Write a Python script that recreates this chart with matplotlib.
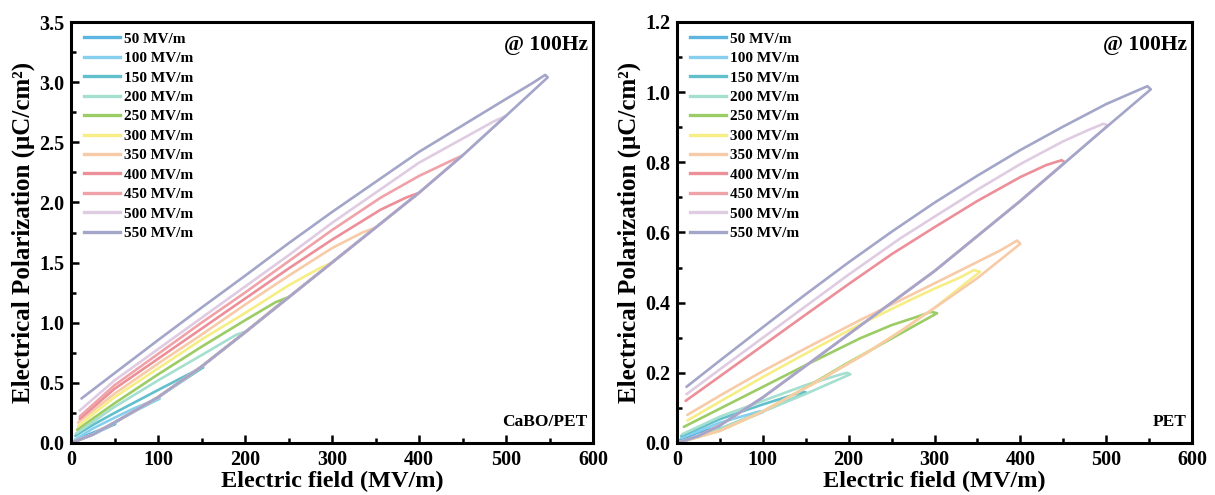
import matplotlib
matplotlib.use("Agg")
import matplotlib.pyplot as plt
from matplotlib.lines import Line2D
from matplotlib.ticker import MultipleLocator

plt.rcParams['font.family'] = ['Liberation Serif', 'DejaVu Serif']
plt.rcParams['font.weight'] = 'bold'

# ---------------- legend ----------------
LEGEND_LABELS = ['50 MV/m', '100 MV/m', '150 MV/m', '200 MV/m', '250 MV/m', '300 MV/m',
                 '350 MV/m', '400 MV/m', '450 MV/m', '500 MV/m', '550 MV/m']
LEGEND_COLORS = ['#5bb5e0', '#87cfef', '#62c0cc', '#a5dfcf', '#9ccc65', '#f6ee85',
                 '#f8cba8', '#ec8f99', '#f0a2a9', '#e0cce2', '#a4a6c9']

# ---------------- left panel (CaBO/PET): loops E (MV/m), P (uC/cm2) ----------------
L50_E = [0, 25, 51, 45, 30, 15, 3]
L50_P = [0, 0.07, 0.16, 0.145, 0.10, 0.055, 0.015]
L100_E = [0, 25, 50, 75, 102, 90, 70, 50, 25, 5]
L100_P = [0, 0.07, 0.17, 0.27, 0.37, 0.34, 0.28, 0.21, 0.12, 0.03]
L150_E = [0, 25, 50, 100, 152, 140, 100, 50, 25, 5]
L150_P = [0, 0.07, 0.17, 0.38, 0.63, 0.59, 0.44, 0.25, 0.15, 0.06]
L200_E = [0, 25, 50, 100, 150, 202, 190, 150, 100, 50, 6]
L200_P = [0, 0.07, 0.17, 0.38, 0.635, 0.93, 0.90, 0.73, 0.52, 0.30, 0.08]
L250_E = [0, 25, 50, 100, 150, 200, 249, 235, 200, 150, 100, 50, 7]
L250_P = [0, 0.07, 0.17, 0.38, 0.635, 0.92, 1.21, 1.17, 1.02, 0.80, 0.57, 0.33, 0.11]
L300_E = [0, 25, 50, 100, 150, 200, 250, 300, 285, 250, 200, 150, 100, 50, 8]
L300_P = [0, 0.07, 0.17, 0.38, 0.635, 0.92, 1.21, 1.50, 1.45, 1.31, 1.08, 0.86, 0.62, 0.38, 0.14]
L350_E = [0, 25, 50, 100, 150, 200, 250, 300, 350, 335, 300, 250, 200, 150, 100, 50, 8]
L350_P = [0, 0.07, 0.17, 0.38, 0.635, 0.92, 1.21, 1.50, 1.79, 1.75, 1.62, 1.39, 1.15, 0.90, 0.66, 0.41, 0.17]
L400_E = [0, 25, 50, 100, 150, 200, 250, 300, 350, 400, 385, 356, 300, 250, 200, 150, 100, 50, 10]
L400_P = [0, 0.07, 0.17, 0.38, 0.635, 0.92, 1.21, 1.50, 1.79, 2.08, 2.04, 1.94, 1.69, 1.45, 1.20, 0.95, 0.70, 0.45, 0.20]
L450_E = [0, 25, 50, 100, 150, 200, 250, 300, 350, 400, 450, 435, 400, 356, 300, 250, 200, 150, 100, 50, 10]
L450_P = [0, 0.07, 0.17, 0.38, 0.635, 0.92, 1.21, 1.50, 1.79, 2.08, 2.39, 2.34, 2.22, 2.04, 1.77, 1.51, 1.25, 1.00, 0.74, 0.48, 0.22]
L500_E = [0, 25, 50, 100, 150, 200, 250, 300, 350, 400, 450, 500, 485, 450, 400, 356, 300, 250, 200, 150, 100, 50, 10]
L500_P = [0, 0.07, 0.17, 0.38, 0.635, 0.92, 1.21, 1.50, 1.79, 2.08, 2.39, 2.72, 2.67, 2.53, 2.33, 2.11, 1.83, 1.56, 1.30, 1.04, 0.78, 0.52, 0.27]
L550_E = [0, 25, 50, 100, 150, 200, 250, 300, 350, 400, 450, 500, 548, 545, 530, 500, 450, 400, 356, 300, 250, 200, 150, 100, 50, 12]
L550_P = [0, 0.07, 0.17, 0.38, 0.635, 0.92, 1.21, 1.50, 1.79, 2.08, 2.39, 2.72, 3.04, 3.06, 2.99, 2.86, 2.64, 2.42, 2.20, 1.92, 1.66, 1.39, 1.125, 0.855, 0.58, 0.37]

# ---------------- right panel (PET) ----------------
R50_E = [0, 25, 50, 47, 25, 3]
R50_P = [0, 0.018, 0.043, 0.045, 0.03, 0.008]
R100_E = [0, 50, 100, 96, 50, 5]
R100_P = [0, 0.04, 0.088, 0.09, 0.058, 0.015]
R150_E = [0, 50, 100, 151, 147, 100, 50, 5]
R150_P = [0, 0.04, 0.09, 0.143, 0.146, 0.11, 0.068, 0.02]
R200_E = [0, 50, 100, 150, 202, 198, 190, 150, 100, 50, 6]
R200_P = [0, 0.04, 0.09, 0.14, 0.196, 0.20, 0.195, 0.165, 0.12, 0.075, 0.025]
R300_E = [0, 50, 100, 150, 198, 250, 303, 296, 280, 250, 213, 150, 100, 50, 8]
R300_P = [0, 0.035, 0.09, 0.158, 0.227, 0.298, 0.37, 0.374, 0.36, 0.336, 0.298, 0.222, 0.16, 0.098, 0.046]
R350_E = [0, 50, 100, 167, 220, 260, 300, 353, 346, 330, 300, 272, 213, 150, 100, 50, 12]
R350_P = [0, 0.035, 0.09, 0.18, 0.256, 0.318, 0.385, 0.488, 0.493, 0.472, 0.44, 0.408, 0.338, 0.255, 0.188, 0.118, 0.064]
R400_E = [0, 50, 100, 167, 220, 260, 300, 350, 400, 396, 390, 376, 300, 213, 150, 100, 50, 12]
R400_P = [0, 0.035, 0.09, 0.18, 0.255, 0.318, 0.385, 0.47, 0.568, 0.577, 0.568, 0.548, 0.455, 0.35, 0.27, 0.205, 0.135, 0.08]
R450_E = [0, 25, 50, 100, 150, 200, 250, 300, 350, 400, 452, 448, 430, 400, 350, 300, 250, 200, 150, 100, 50, 10]
R450_P = [0, 0.02, 0.05, 0.13, 0.22, 0.31, 0.40, 0.49, 0.59, 0.69, 0.80, 0.806, 0.792, 0.758, 0.69, 0.615, 0.538, 0.453, 0.366, 0.278, 0.19, 0.12]
R500_E = [0, 25, 50, 100, 150, 200, 250, 300, 350, 400, 450, 502, 497, 480, 450, 400, 350, 300, 260, 200, 150, 100, 50, 11]
R500_P = [0, 0.02, 0.05, 0.13, 0.22, 0.31, 0.40, 0.49, 0.59, 0.69, 0.795, 0.905, 0.91, 0.893, 0.86, 0.795, 0.722, 0.645, 0.583, 0.48, 0.39, 0.30, 0.21, 0.139]
R550_E = [0, 25, 50, 100, 150, 200, 250, 300, 350, 400, 450, 500, 552, 548, 530, 500, 450, 400, 350, 300, 250, 200, 150, 100, 50, 11]
R550_P = [0, 0.02, 0.05, 0.13, 0.22, 0.31, 0.40, 0.49, 0.59, 0.69, 0.795, 0.90, 1.008, 1.017, 0.998, 0.966, 0.902, 0.835, 0.762, 0.685, 0.602, 0.515, 0.424, 0.33, 0.235, 0.16]

LEFT_LOOPS = [(L50_E, L50_P, 0), (L100_E, L100_P, 1), (L150_E, L150_P, 2), (L200_E, L200_P, 3),
              (L250_E, L250_P, 4), (L300_E, L300_P, 5), (L350_E, L350_P, 6), (L400_E, L400_P, 7),
              (L450_E, L450_P, 8), (L500_E, L500_P, 9), (L550_E, L550_P, 10)]
RIGHT_LOOPS = [(R50_E, R50_P, 0), (R100_E, R100_P, 1), (R150_E, R150_P, 2), (R200_E, R200_P, 3),
               (R300_E, R300_P, 4), (R350_E, R350_P, 5), (R400_E, R400_P, 6), (R450_E, R450_P, 7),
               (R500_E, R500_P, 9), (R550_E, R550_P, 10)]

W, H = 1215, 495
fig = plt.figure(figsize=(W / 100, H / 100), dpi=100)
ax1 = fig.add_axes([71 / W, 1 - 443 / H, (593 - 71) / W, (443 - 22) / H])
ax2 = fig.add_axes([677 / W, 1 - 443 / H, (1192 - 677) / W, (443 - 22) / H])


def style(ax, ymax, ymaj, ymin, sample):
    ax.set_xlim(0, 600)
    ax.set_ylim(0, ymax)
    ax.xaxis.set_major_locator(MultipleLocator(100))
    ax.xaxis.set_minor_locator(MultipleLocator(50))
    ax.yaxis.set_major_locator(MultipleLocator(ymaj))
    ax.yaxis.set_minor_locator(MultipleLocator(ymin))
    ax.tick_params(which='both', direction='in', top=False, right=False, labelsize=14.5, width=1.8)
    ax.tick_params(which='major', length=6)
    ax.tick_params(axis='x', which='major', pad=5)
    ax.tick_params(axis='y', which='major', pad=5)
    ax.tick_params(which='minor', length=3.5)
    for lab in ax.get_xticklabels() + ax.get_yticklabels():
        lab.set_fontweight('bold')
    for s in ax.spines.values():
        s.set_linewidth(2.2)
    ax.set_xlabel('Electric field (MV/m)', fontsize=17.5, fontweight='bold', labelpad=1)
    ax.set_ylabel('Electrical Polarization (μC/cm²)', fontsize=18, fontweight='bold', labelpad=3)
    ax.text(0.99, 0.945, '@ 100Hz', transform=ax.transAxes, ha='right', va='center',
            fontsize=15.5, fontweight='bold')
    ax.text(0.99, 0.05, sample, transform=ax.transAxes, ha='right', va='center',
            fontsize=12.5, fontweight='bold')
    handles = [Line2D([0], [0], color=c, lw=2.4) for c in LEGEND_COLORS]
    ax.legend(handles, LEGEND_LABELS, loc='upper left', bbox_to_anchor=(0.025, 0.976),
              frameon=False, prop={'weight': 'bold', 'size': 11}, handlelength=2.35,
              labelspacing=0.375, handletextpad=0.26, borderaxespad=0.0, borderpad=0.0)


for E, P, ci in LEFT_LOOPS:
    ax1.plot(E, P, color=LEGEND_COLORS[ci], lw=1.9, solid_joinstyle='round', solid_capstyle='round')
for E, P, ci in RIGHT_LOOPS:
    ax2.plot(E, P, color=LEGEND_COLORS[ci], lw=1.9, solid_joinstyle='round', solid_capstyle='round')

style(ax1, 3.5, 0.5, 0.25, 'CaBO/PET')
style(ax2, 1.2, 0.2, 0.1, 'PET')

fig.savefig('out.png', dpi=100)
